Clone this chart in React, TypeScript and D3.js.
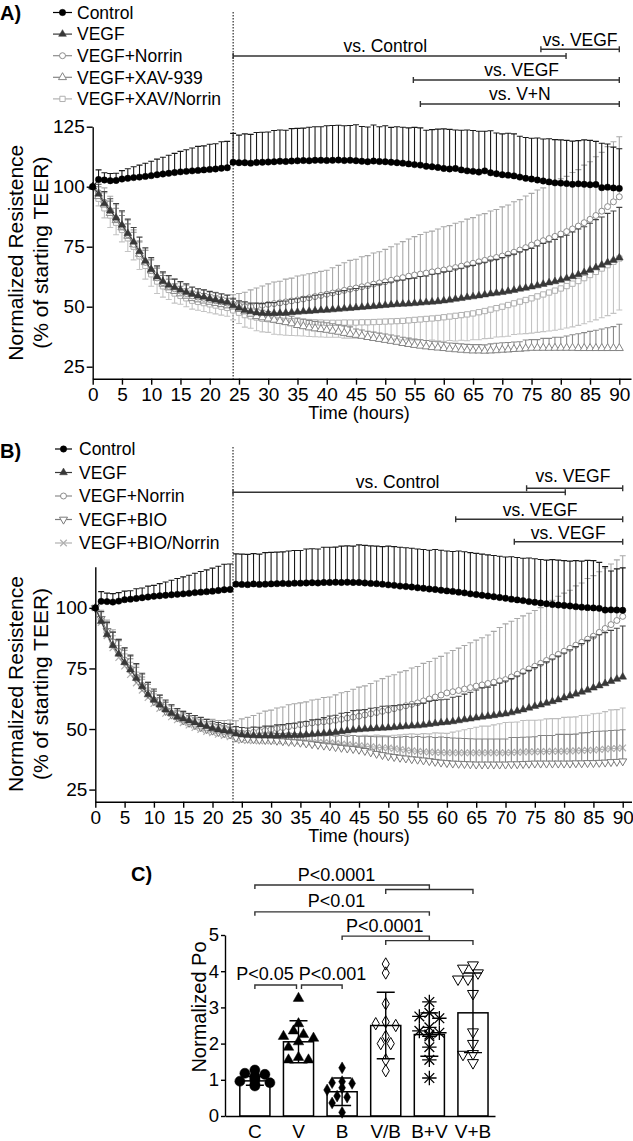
import { useEffect, useRef } from "react";
import * as d3 from "d3";

const FONT = "'Liberation Sans', Arial, Helvetica, sans-serif";

// sampling times (hours), one reading per hour
const HOURS = [0,1,2,3,4,5,6,7,8,9,10,11,12,13,14,15,16,17,18,19,20,21,22,23,24,25,26,27,28,29,30,31,32,33,34,35,36,37,38,39,40,41,42,43,44,45,46,47,48,49,50,51,52,53,54,55,56,57,58,59,60,61,62,63,64,65,66,67,68,69,70,71,72,73,74,75,76,77,78,79,80,81,82,83,84,85,86,87,88,89,90];
const X_TICKS = [0,5,10,15,20,25,30,35,40,45,50,55,60,65,70,75,80,85,90];
const Y_TICKS_A = [25,50,75,100,125];
const Y_TICKS_B = [25,50,75,100];
const Y_TICKS_C = [0,1,2,3,4,5];
const SWITCH_A = 24;
const SWITCH_B = 23.5;

const LEGEND_A = ["Control","VEGF","VEGF+Norrin","VEGF+XAV-939","VEGF+XAV/Norrin"];
const LEGEND_B = ["Control","VEGF","VEGF+Norrin","VEGF+BIO","VEGF+BIO/Norrin"];

// ---- panel A: mean and SD
const A_CONTROL = [100,103,102.8,102.5,102.6, 103.2,103.5,103.8,104,104.3, 104.6,105,105.3,105.6,105.9, 106.2,106.4,106.6,106.8,107, 107.2,107.4,107.7,107.9, 110.2,110,110,109.8,110.1,110.2, 110.3,110.4,110.6,110.5,110.7, 110.8,110.9,110.8,111,111, 110.9,111,111.1,110.9,111, 110.8,110.6,110.4,110.7,110.5, 110.4,110.2,110,109.8,109.5, 109.2,109,108.5,108.3,108, 107.6,107.4,107.6,107,106.6, 106.4,106.1,106.6,105.8,105.4, 105,104.8,104.5,104,103.5, 103.2,102.8,102.4,102,101.6, 101.5,101.3,101,101.2,101, 100.8,100.9,99.6,99.8,99.5, 99.3];
const A_CONTROL_SD = [0, 4,3,3,3, 3.5,4,4.5,5,5.5, 6,6.5,7,7.5,8, 8.5,9,9.5,10,10, 10.5,10.5,11,11, 12,11.5,12,12,12.5,12.5, 12.5,13,13,13,13.5, 13.5,13.5,14,14,14, 14.5,14.5,14.5,14.5,14.5, 15,14.5,14.5,15,14.5, 15,14.5,15,15,15, 15.5,15.5,15,15.5,16, 16.5,16.5,16,16.5,17, 17,17,16.5,17.5,17, 17,17.5,17.5,17,17, 17,17.5,17.5,18,18, 18,18,18,18,18.5, 18.5,18,18.5,18,17, 16.5];
const A_VEGF = [100,97,93,90,87, 84,80.5,77,73,69, 65.5,62.5,60.5,59,58, 57,56,55.2,54.5,54, 53.3,52.8,52.3,51.8, 50.5,49.5,48.5,48,47.5,47.3, 47.2,47.2,47.3,47.4,47.6, 47.8,48,48.1,48.3,48.5, 48.6,48.8,49,49.2,49.4, 49.6,49.8,50,50.2,50.4, 50.6,50.8,51,51.1,51.2, 51.4,51.6,51.8,52,52.2, 52.5,52.8,53.2,53.5,53.9, 54.2,54.6,55,55.4,55.7, 56,56.4,56.9,57.4,57.8, 58.3,58.8,59.4,60,60.5, 61.1,61.8,62.6,63.4,64.3, 65.3,66.3,67.4,68.4,69.4, 70.4];
const A_VEGF_SD = [0, 4,5,5,6, 6,6,6,6,5.5, 5,4.5,4,4,3.5, 3.5,3.5,3,3,3, 3,3,3,3, 3,3,3.5,3.5,4,4, 4.5,4.5,5,5,5.5, 5.5,6,6,6.5,6.5, 7,7,7.5,7.5,8, 8,8.5,8.5,9,9, 9.5,9.5,10,10,10.5, 10.5,11,11,11.5,11.5, 12,12,12.5,12.5,13, 13,13.5,13.5,14,14, 14.5,15,15,15.5,16, 16,16.5,17,17,17.5, 18,18,18.5,19,19, 19.5,20,20,20.5,20.5, 21];
const A_NORRIN = [100,97.5,93.5,90,86.5, 83.5,80,76,72,68.5, 65,62,60,58.5,57.5, 56.5,55.5,54.5,54,53.5, 53,52.5,52,51.5, 51,50.5,50,50,50.3,50.6, 51,51.3,51.6,52,52.4, 52.8,53.2,53.7,54.2,54.7, 55.2,55.7,56.2,56.8,57.3, 57.8,58.3,58.8,59.4,59.9, 60.4,61,61.6,62.1,62.7, 63.2,63.6,64,64.5,64.9, 65.3,65.8,66.3,66.9,67.5, 68.1,68.7,69.3,69.9,70.5, 71.1,71.9,72.7,73.6,74.6, 75.7,76.6,77.5,78.4,79.3, 80.3,81.3,82.4,83.6,85, 86.4,88,89.8,91.7,93.7, 95.8];
const A_NORRIN_SD = [0, 5,6,6,6, 6,6,6,5.5,5, 5,4.5,4,4,4, 3.5,3.5,3.5,3.5,3.5, 3.5,3.5,3.5,3.5, 4,5,6,7,7.5,8, 8.5,9,9,9.5,9.5, 10,10,10,10,10, 10,10.5,11,11.5,12, 12,12.5,12.5,13,13, 13.5,14,14.5,15,15.5, 16,16.5,17,17,17.5, 18,18,18.5,18.5,19, 19,19.5,19.5,20,20, 20.5,20.5,21,21,21.5, 21.5,22,22,22.5,22.5, 23,23,23.5,23.5,24, 24,24.5,24.5,25,25, 25];
const A_XAV = [100,96,92.5,89,86, 83,79.5,76,72,68.5, 65,62,59.5,58,56.5, 55.5,54.5,53.5,53,52.5, 52,51.5,51,50.5, 50,49,48,47,46,45.5, 45,44.5,44,43.5,43, 42.3,41.8,41.3,40.9,40.6, 40.3,39.9,39.5,39,38.6, 38.2,37.8,37.3,36.9,36.5, 36.1,35.7,35.3,34.8,34.4, 34,33.7,33.4,33.1,32.9, 32.7,32.4,32.2,32,31.8, 31.7,31.7,31.6,31.7,31.8, 32,32.1,32.3,32.4,32.6, 32.8,32.8,32.8,32.8,32.8, 32.8,32.8,32.8,32.7,32.7, 32.7,32.7,32.7,32.7,32.7, 32.7];
const A_XAV_SD = [0, 4,5,5,5, 5,5,5,5,5, 4.5,4,3.5,3.5,3, 3,3,3,3,3, 3,3,3,3, 3,3,3,3,3,3, 3,3,3,3,3, 3,3,3,3,3, 3,3,3,3,3, 2.5,2.5,2.5,2.5,2.5, 2.5,2.5,2.5,2.5,2.5, 2.5,2.5,2.5,2.5,2.5, 2.5,2.5,2.5,2.5,2.5, 2.5,2.5,2.5,2.8,3, 3,3,3,3,3.5, 3.5,3.5,4,4,4.5, 4.5,5,5.5,6,6.5, 7,7.5,8,8.5,9, 10];
const A_XN = [100,95,91,88,85, 82,78.5,75,71,67, 63.5,60.5,58.5,57,55.5, 54.5,53.5,52.5,52,51.5, 51,50.5,50,49.5, 48.5,47.5,46.5,46,45.5,45, 44.8,44.5,44.3,44.1,44, 43.9,43.8,43.6,43.5,43.4, 43.3,43.3,43.3,43.4,43.4, 43.4,43.5,43.5,43.6,43.7, 43.8,43.9,44,44.1,44.3, 44.5,44.7,44.9,45.1,45.3, 45.6,45.9,46.2,46.5,46.8, 47.2,47.7,48.2,48.8,49.4, 50,50.7,51.4,52.1,52.8, 53.5,54.3,55.1,55.9,56.7, 57.6,58.6,59.6,60.7,61.9, 63.2,64.5,65.9,67.3,68.7, 70.1];
const A_XN_SD = [0, 3,4,5,5, 5,5.5,5.5,5.5,5.5, 5,5,4.5,4,4, 3.5,3.5,3.5,3.5,3.5, 3.5,3.5,3.5,3.5, 4,4.5,5,5,5.5,5.5, 5.5,6,6,6,6, 6,6,6,6,6, 6,6,6,6.5,6.5, 6.5,6.5,7,7,7, 7,7.5,7.5,8,8, 8.5,8.5,9,9,9.5, 10,10,10.5,10.5,11, 11,11.5,11.5,12,12, 12.5,13,13,13.5,14, 14.5,15,15.5,16,16.5, 17,17.5,18,18.5,19, 19.5,20,20.5,21,21.5, 21.5];

// ---- panel B: mean and SD
const B_CONTROL = [100,102.7,102.6,102.4,102.8, 103.4,103.6,103.9,104.2,104.5, 104.8,105,105.2,105.4,105.6, 105.8,106,106.3,106.5,106.7, 106.9,107.2,107.5,107.6, 109.8,109.7,109.6,109.9,109.7,109.8, 109.9,110,110.1,110,110.2, 110.2,110.3,110.4,110.3,110.5, 110.5,110.6,110.5,110.6,110.5, 110.5,110.3,110.1,110,109.8, 109.5,109.3,109,108.8,108.6, 108.3,108.1,107.8,107.6,107.3, 107,106.8,106.5,106.2,105.8, 105.5,105.2,104.9,104.6,104.3, 104,103.6,103.3,103,102.6, 102.3,102,101.7,101.4,101.2, 101,100.8,100.5,100.3,100.1, 100,99.8,99.1,99.2,99.1, 99];
const B_CONTROL_SD = [0, 4,3.5,3.5,3.5, 3.5,3.5,4,4,4.5, 4.5,5,5.5,6,6.5, 7,7.5,8,8.5,9, 9.5,10,10.5,10.5, 12.5,12.5,12.5,12.5,12.5,13, 13,13,13,13.5,13.5, 13.5,14,14,14,14.5, 14.5,14.5,15,15,15, 15.5,15.5,15.5,15.5,15.5, 16,16,16,16,16, 16,16,16,16.5,16.5, 16.5,16.5,17,17,17, 17,17,17,17,17, 17,17.5,17.5,17.5,18, 18,18,18,18.5,18.5, 18.5,18.5,19,19,19.5, 19.5,19,18,16,17, 17.5];
const B_VEGF = [100,94.5,89,84.5,81, 77.5,74.5,71,67.5,64.2, 62,60,58,56.5,55, 54.2,53.4,52.6,51.8,51, 50.2,49.7,49.3,49, 48,47.6,47.4,47.3,47.2,47.2, 47.2,47.2,47.3,47.3,47.4, 47.4,47.6,47.8,48,48.2, 48.4,48.7,49,49.3,49.6, 49.8,50,50.1,50.3,50.4, 50.5,50.7,50.9,51.1,51.3, 51.4,51.7,52,52.3,52.6, 52.8,53.1,53.5,53.9,54.2, 54.6,55,55.3,55.6,56, 56.3,56.8,57.4,58,58.7, 59.4,60,60.7,61.4,62.1, 62.9,63.7,64.5,65.3,66.1, 67,67.9,68.8,69.7,70.6, 71.5];
const B_VEGF_SD = [0, 4,5,5.5,6, 6,6,6,5.5,5, 4.5,4,4,3.5,3.5, 3,3,3,3,3, 3,3,3,3, 3,3,3,3.5,3.5,4, 4,4.5,4.5,5,5, 5.5,5.5,6,6,6.5, 7,7,7.5,7.5,8, 8,8,8.5,8.5,9, 9,9,9,9,9, 9,9,9.5,9.5,9.5, 9.5,10,10,10.5,11, 11.5,12,12,12.5,13, 13.5,14,14.5,15,15.5, 16,16.5,17,17.5,18, 18.5,19,19.5,20,20.5, 21,21,21,21,21, 21];
const B_NORRIN = [100,95,90,86,82, 78.5,75,71.5,68,65, 62,60,58,56.5,55, 54,53,52,51.2,50.5, 50,49.5,49,48.7, 48.4,48.2,48.3,48.6,49,49.4, 49.8,50.2,50.6,51,51.4, 51.8,52.2,52.5,52.8,53, 53.2,53.6,54,54.5,54.9, 55.3,55.8,56.3,56.8,57.3, 57.8,58.4,59,59.6,60.2, 60.8,61.6,62.4,63.2,64, 64.9,65.4,65.9,66.5,67.1, 67.7,68.2,68.8,69.3,69.9, 70.4,71.5,72.6,73.7,74.8, 75.9,77.1,78.3,79.6,80.8, 82.1,83.3,84.6,85.8,87.1, 88.3,89.9,91.5,93.1,94.8, 96.5];
const B_NORRIN_SD = [0, 4,5,5,5, 5,5,5,4.5,4.5, 4,4,3.5,3.5,3.5, 3.5,3.5,3.5,3.5,3.5, 4,4,4.5,5, 5,6,6.5,7,7.5,8, 8,8.5,8.5,9,9, 9,9,9.5,9.5,10, 10,10.5,11,11,11.5, 12,12,12.5,13,13.5, 14,14,14.5,14.5,15, 15,15.5,15.5,16,16, 16.5,17,17.5,18,18.5, 19,19.5,20,21,22, 23,23,23,23,23, 23,23,23.5,23.5,24, 24,24,24.5,24.5,25, 25,25,25,25,25, 25];
const B_BIO = [100,95.5,90.5,86,82, 78,74.5,71,67.5,64.5, 61.5,59.5,57.5,56,54.8, 53.6,52.6,51.6,50.8,50, 49.4,48.8,48.3,47.8, 46.5,46.2,46,45.8,45.6,45.5, 45.4,45.2,45,44.8,44.6, 44.4,44.1,43.8,43.5,43.2, 42.9,42.6,42.3,42,41.8, 41.5,41,40.4,39.8,39.3, 38.8,38.5,38.2,37.9,37.6, 37.4,37.1,36.8,36.5,36.2, 36,35.8,35.7,35.6,35.5, 35.4,35.4,35.4,35.4,35.4, 35.4,35.5,35.5,35.6,35.7, 35.8,35.8,35.8,35.8,35.8, 35.8,35.8,35.9,35.9,36, 36,36.1,36.2,36.4,36.5, 36.7];
const B_BIO_SD = [0, 3,4,4,4.5, 4.5,4.5,4.5,4,4, 4,3.5,3.5,3.5,3, 3,3,3,3,3, 3,3,3,3, 3,3,3,3,3,3, 3,3,3,3.5,3.5, 3.5,4,4,4,4, 4.5,4.5,5,5,5.5, 5.5,6,6.5,7,7.5, 8,8,8.5,9,9, 9.5,9.5,10,10,10.5, 10.5,10.5,10.5,10.5,10.5, 10.5,10.5,10.5,10.5,10.5, 10.5,11,11,11,11, 11,11.5,11.5,11.5,12, 12,12,12,12.5,12.5, 13,13,13,13,13, 13];
const B_BN = [100,94,88.5,83.5,79.5, 76,72.5,69,66,63, 60.5,58.5,56.5,55,53.8, 52.6,51.6,50.6,49.8,49, 48.4,47.8,47.3,46.8, 45.5,45.3,45.2,45.1,45.1,45.1, 45.1,45.1,45.1,45,45, 45,44.8,44.6,44.5,44.4, 44.3,44.1,43.8,43.6,43.3, 43.1,42.9,42.7,42.5,42.3, 42.2,41.9,41.6,41.3,41, 40.8,40.6,40.5,40.4,40.3, 40.2,40.2,40.2,40.2,40.2, 40.2,40.2,40.2,40.2,40.2, 40.2,40.3,40.4,40.5,40.6, 40.6,40.7,40.7,40.8,40.8, 40.8,40.9,41,41.1,41.2, 41.3,41.5,41.7,41.9,42, 42.2];
const B_BN_SD = [0, 4,5,5,5, 5,5,4.5,4.5,4, 4,4,3.5,3.5,3.5, 3.5,3.5,3.5,3.5,3.5, 3.5,3.5,3.5,3.5, 3,3,3,3,3,3, 3,3,3,3,3, 3,3,3,3,3, 3,3.5,3.5,4,4, 4,4.5,4.5,5,5, 5,5.5,6,6.5,7, 7,7.5,7.5,8,8, 8,8.5,9,9.5,10, 10.5,11,11,11.5,12, 12.5,12.5,12.5,13,13, 13,13,13.5,13.5,13.5, 14,14,14,14.5,14.5, 15,15,15.5,16,16, 16.5];

// significance ranges (hours) above the time panels
const A_SIG = [
  { label: "vs. Control", from: 24, to: 80.9, labelT: 50 },
  { label: "vs. VEGF", from: 76.6, to: 90, labelT: 83.3 },
  { label: "vs. VEGF", from: 54.8, to: 90, labelT: 73.3 },
  { label: "vs. V+N", from: 56, to: 90, labelT: 73 },
];
const B_SIG = [
  { label: "vs. Control", from: 23.5, to: 80.2, labelT: 51.6 },
  { label: "vs. VEGF", from: 73.6, to: 90, labelT: 81.5 },
  { label: "vs. VEGF", from: 61.5, to: 90, labelT: 75.9 },
  { label: "vs. VEGF", from: 71.5, to: 90, labelT: 80.7 },
];

// ---- panel C
const C_GROUPS = ["C","V","B","V/B","B+V","V+B"];
const C_MEANS = [0.97, 2.05, 0.67, 2.5, 2.25, 2.85];
const C_SD = [0.12, 0.58, 0.38, 0.92, 0.6, 1.1];
const C_PTS_C = [1.27,1.18,1.15,1.1,1.05,1.0,0.96,0.92,0.88,0.83];
const C_PTS_V = [3.25,2.55,2.35,2.25,2.2,2.15,2.05,1.9,1.62,1.55,1.55];
const C_PTS_B = [1.33,0.95,0.92,0.9,0.78,0.72,0.55,0.52,0.36,0.1];
const C_PTS_VB = [4.2,3.95,3.1,2.6,2.55,2.5,2.2,2.0,2.0,1.55,1.25];
const C_PTS_BV = [3.15,2.85,2.75,2.7,2.45,2.35,2.3,2.25,2.2,1.9,1.55,1.05];
const C_PTS_VPB = [4.17,4.08,3.95,3.78,3.78,3.38,2.32,2.0,1.72,1.7,1.47];
const C_BRACKETS = [
  { label: "P<0.0001", from: "C", to: "B+V", group: ["V/B","V+B"], level: 6.38, labelAt: 1.87 },
  { label: "P<0.01", from: "C", to: "B+V", group: null, level: 5.64, labelAt: 1.87 },
  { label: "P<0.0001", from: "B", to: "B+V", group: ["V/B","V+B"], level: 4.97, labelAt: 2.98 },
  { label: "P<0.05", from: "C", to: "V", group: null, level: 3.62, labelAt: 0.23 },
  { label: "P<0.001", from: "V", to: "B", group: null, level: 3.62, labelAt: 1.78 },
];
const C_INSET = [[0,0],[0,0],[0,0],[0,-2],[3,0]];

const SYMBOLS: any = {
  circle: d3.symbolCircle, triangle: d3.symbolTriangle, triangleDown: d3.symbolTriangle,
  square: d3.symbolSquare, diamond: d3.symbolDiamond, times: d3.symbolTimes, plus: d3.symbolPlus,
};

const STYLE_A = [
  { shape: "circle", filled: true, color: "#000", bar: "#1a1a1a", dir: 1, size: 32 },
  { shape: "triangle", filled: true, color: "#383838", bar: "#444", dir: 1, size: 26 },
  { shape: "circle", filled: false, color: "#8c8c8c", bar: "#a8a8a8", dir: 1, size: 28 },
  { shape: "triangle", filled: false, color: "#858585", bar: "#8a8a8a", dir: 1, size: 28 },
  { shape: "square", filled: false, color: "#b0b0b0", bar: "#c4c4c4", dir: -1, size: 28 },
];
const STYLE_B = [
  { shape: "circle", filled: true, color: "#000", bar: "#1a1a1a", dir: 1, size: 32 },
  { shape: "triangle", filled: true, color: "#383838", bar: "#444", dir: 1, size: 26 },
  { shape: "circle", filled: false, color: "#8c8c8c", bar: "#a8a8a8", dir: 1, size: 28 },
  { shape: "triangleDown", filled: false, color: "#7a7a7a", bar: "#858585", dir: 1, size: 28 },
  { shape: "times", filled: false, color: "#b0b0b0", bar: "#bdbdbd", dir: 1, size: 30 },
];

const LAYOUT_A = {
  left: 92.7, right: 631, xMax: 92, top: 126.7, bottom: 378.7, yMax: 125, dotTop: 12,
  legLine: [53, 72], legText: 77, legY0: 12.5, legStep: 21.6,
  letter: "A)", letterY: 20, yTitleY: 252.7, xTitleY: 419,
  sigY: [56, 49.3, 80, 104], sigTextY: [52, 46, 76, 100],
};
const LAYOUT_B = {
  left: 95.3, right: 631.5, xMax: 91.5, top: 566.7, bottom: 801.7, yMax: 117, dotTop: 447,
  legLine: [55, 72], legText: 79, legY0: 449, legStep: 23.5,
  letter: "B)", letterY: 458, yTitleY: 684, xTitleY: 842,
  sigY: [492.3, 488.3, 519.3, 541.7], sigTextY: [488, 482, 516, 539],
};

function addMarker(g: any, st: any, x: number, y: number, size: number, openFill = "#fff") {
  // 8-armed asterisk = plus + times drawn on top of each other
  if (st.shape === "star") {
    ["plus", "times"].forEach(s => {
      g.append("path").attr("d", d3.symbol(SYMBOLS[s], s === "plus" ? size : size * 0.9)())
        .attr("transform", `translate(${x},${y})`)
        .attr("fill", "none").attr("stroke", st.color).attr("stroke-width", 1.3);
    });
    return;
  }
  const rot = st.shape === "triangleDown" ? " rotate(180)" : "";
  const strokeOnly = st.shape === "times";
  g.append("path")
    .attr("d", d3.symbol(SYMBOLS[st.shape], size)())
    .attr("transform", `translate(${x},${y})${rot}`)
    .attr("fill", strokeOnly ? "none" : st.filled ? st.color : openFill)
    .attr("stroke", st.color)
    .attr("stroke-width", strokeOnly ? 1.2 : st.filled ? 0.5 : 1);
}

function styleAxis(ax: any, size: number) {
  ax.attr("font-family", FONT).attr("font-size", size);
  ax.selectAll("text").attr("fill", "#000");
  ax.selectAll("path,line").attr("stroke", "#000").attr("stroke-width", 1.4);
}

function drawTimePanel(svg: any, L: any, means: number[][], sds: number[][], styles: any[],
  legend: string[], sig: any[], yTicks: number[], switchT: number) {
  const x = d3.scaleLinear().domain([0, L.xMax]).range([L.left, L.right]);
  const y = d3.scaleLinear().domain([20, L.yMax]).range([L.bottom, L.top]);
  const g = svg.append("g");

  g.append("line")
    .attr("x1", x(switchT)).attr("x2", x(switchT))
    .attr("y1", L.dotTop).attr("y2", L.bottom)
    .attr("stroke", "#000").attr("stroke-width", 1).attr("stroke-dasharray", "1.5,1.5");

  for (let s = means.length - 1; s >= 0; s--) {
    const st = styles[s], mean = means[s], sd = sds[s];
    const gs = g.append("g");
    let bars = "";
    HOURS.forEach((t, i) => {
      if (!sd[i]) return;
      const xx = x(t), y0 = y(mean[i]), y1 = y(mean[i] + st.dir * sd[i]);
      bars += `M${xx},${y0}V${y1}M${xx - 3},${y1}H${xx + 3}`;
    });
    gs.append("path").attr("d", bars).attr("fill", "none").attr("stroke", st.bar).attr("stroke-width", 1.1);
    const line = d3.line<number>().x((_, i) => x(HOURS[i])).y(d => y(d));
    gs.append("path").datum(mean).attr("d", line).attr("fill", "none").attr("stroke", st.color).attr("stroke-width", 1);
    mean.forEach((v, i) => addMarker(gs, st, x(HOURS[i]), y(v), st.size));
  }

  const ax = g.append("g").attr("transform", `translate(0,${L.bottom})`)
    .call(d3.axisBottom(x).tickValues(X_TICKS).tickSize(6).tickPadding(3).tickSizeOuter(0));
  styleAxis(ax, 19);
  const ay = g.append("g").attr("transform", `translate(${L.left},0)`)
    .call(d3.axisLeft(y).tickValues(yTicks).tickSize(6).tickPadding(2).tickSizeOuter(0));
  styleAxis(ay, 19);

  g.append("text").attr("x", 359).attr("y", L.xTitleY).attr("text-anchor", "middle")
    .attr("font-family", FONT).attr("font-size", 18).text("Time (hours)");
  g.append("text").attr("transform", `translate(23,${L.yTitleY}) rotate(-90)`).attr("text-anchor", "middle")
    .attr("font-family", FONT).attr("font-size", 21).text("Normalized Resistence");
  g.append("text").attr("transform", `translate(48,${L.yTitleY}) rotate(-90)`).attr("text-anchor", "middle")
    .attr("font-family", FONT).attr("font-size", 21).text("(% of starting TEER)");
  g.append("text").attr("x", 0).attr("y", L.letterY).attr("font-family", FONT).attr("font-size", 20)
    .attr("font-weight", "bold").text(L.letter);

  legend.forEach((name, i) => {
    const yy = L.legY0 + i * L.legStep, st = styles[i];
    g.append("line").attr("x1", L.legLine[0]).attr("x2", L.legLine[1]).attr("y1", yy).attr("y2", yy)
      .attr("stroke", st.color).attr("stroke-width", 1.2);
    addMarker(g, st, (L.legLine[0] + L.legLine[1]) / 2, yy, st.size);
    g.append("text").attr("x", L.legText).attr("y", yy + 6.3).attr("font-family", FONT)
      .attr("font-size", 17.5).text(name);
  });

  sig.forEach((b, i) => {
    const yy = L.sigY[i], x1 = x(b.from), x2 = x(b.to);
    g.append("path").attr("d", `M${x1},${yy - 3}V${yy + 3}M${x1},${yy}H${x2}M${x2},${yy - 3}V${yy + 3}`)
      .attr("fill", "none").attr("stroke", "#333").attr("stroke-width", 1.4);
    g.append("text").attr("x", x(b.labelT)).attr("y", L.sigTextY[i]).attr("text-anchor", "middle")
      .attr("font-family", FONT).attr("font-size", 17.5).text(b.label);
  });
}

function drawBarPanel(svg: any) {
  const x = d3.scaleBand<string>().domain(C_GROUPS).range([225, 495]).paddingInner(0.31).paddingOuter(0.25).align(0.68);
  const y = d3.scaleLinear().domain([0, 5]).range([1116, 935]);
  const bw = x.bandwidth(), step = x.step();
  const cx = (k: string) => (x(k) as number) + bw / 2;
  const at = (f: number) => cx(C_GROUPS[0]) + f * step;
  const g = svg.append("g");
  const pts = [C_PTS_C, C_PTS_V, C_PTS_B, C_PTS_VB, C_PTS_BV, C_PTS_VPB];
  const styles = [
    { shape: "circle", filled: true, color: "#000", size: 80 },
    { shape: "triangle", filled: true, color: "#000", size: 48 },
    { shape: "diamond", filled: true, color: "#000", size: 40 },
    { shape: "diamond", filled: false, color: "#000", size: 44 },
    { shape: "star", filled: false, color: "#000", size: 70 },
    { shape: "triangleDown", filled: false, color: "#000", size: 52 },
  ];

  C_GROUPS.forEach((k, i) => {
    g.append("rect").attr("x", x(k)).attr("y", y(C_MEANS[i])).attr("width", bw)
      .attr("height", y(0) - y(C_MEANS[i])).attr("fill", "#fff").attr("stroke", "#000").attr("stroke-width", 1.5);
  });
  C_GROUPS.forEach((k, i) => {
    const c = cx(k), hi = y(C_MEANS[i] + C_SD[i]), lo = y(C_MEANS[i] - C_SD[i]);
    g.append("path").attr("d", `M${c},${hi}V${lo}M${c - 9},${hi}H${c + 9}M${c - 9},${lo}H${c + 9}`)
      .attr("fill", "none").attr("stroke", "#000").attr("stroke-width", 1.4);
  });
  // simple deterministic beeswarm inside each bar
  C_GROUPS.forEach((k, i) => {
    const c = cx(k), placed: number[][] = [];
    pts[i].forEach(v => {
      const py = y(v);
      let px = c;
      for (const s of [0, -1, 1, -2, 2, -3, 3]) {
        const cand = c + s * 5;
        if (placed.every(([qx, qy]) => Math.hypot(qx - cand, qy - py) >= 8.5)) { px = cand; break; }
      }
      placed.push([px, py]);
      addMarker(g, styles[i], px, py, styles[i].size, "none");
    });
  });

  const ay = g.append("g").attr("transform", "translate(225,0)")
    .call(d3.axisLeft(y).tickValues(Y_TICKS_C).tickFormat(d3.format("d")).tickSize(4).tickPadding(2).tickSizeOuter(0));
  styleAxis(ay, 18.5);
  const ax = g.append("g").attr("transform", "translate(0,1116)")
    .call(d3.axisBottom(x).tickSize(0).tickPadding(8.5).tickSizeOuter(0));
  styleAxis(ax, 19);

  g.append("text").attr("transform", "translate(206,1007) rotate(-90)").attr("text-anchor", "middle")
    .attr("font-family", FONT).attr("font-size", 20).text("Normalized Po");
  g.append("text").attr("x", 131).attr("y", 881).attr("font-family", FONT).attr("font-size", 20)
    .attr("font-weight", "bold").text("C)");

  C_BRACKETS.forEach((b, i) => {
    const yy = y(b.level), x1 = cx(b.from) + C_INSET[i][0], x2 = cx(b.to) + C_INSET[i][1];
    let d = `M${x1},${yy + 4}V${yy}H${x2}`;
    if (b.group) {
      const gy = yy + 4.5, gx1 = cx(b.group[0]), gx2 = cx(b.group[1]);
      d += `V${gy}M${gx1},${gy + 4.5}V${gy}H${gx2}V${gy + 4.5}`;
    } else {
      d += `V${yy + 4}`;
    }
    g.append("path").attr("d", d).attr("fill", "none").attr("stroke", "#333").attr("stroke-width", 1.4);
    g.append("text").attr("x", at(b.labelAt)).attr("y", yy - 4.5).attr("text-anchor", "middle")
      .attr("font-family", FONT).attr("font-size", 18).text(b.label);
  });
}

export default function App() {
  const ref = useRef<SVGSVGElement>(null);

  useEffect(() => {
    const svg = d3.select(ref.current);
    svg.selectAll("*").remove();
    drawTimePanel(svg, LAYOUT_A,
      [A_CONTROL, A_VEGF, A_NORRIN, A_XAV, A_XN],
      [A_CONTROL_SD, A_VEGF_SD, A_NORRIN_SD, A_XAV_SD, A_XN_SD],
      STYLE_A, LEGEND_A, A_SIG, Y_TICKS_A, SWITCH_A);
    drawTimePanel(svg, LAYOUT_B,
      [B_CONTROL, B_VEGF, B_NORRIN, B_BIO, B_BN],
      [B_CONTROL_SD, B_VEGF_SD, B_NORRIN_SD, B_BIO_SD, B_BN_SD],
      STYLE_B, LEGEND_B, B_SIG, Y_TICKS_B, SWITCH_B);
    drawBarPanel(svg);
  }, []);

  return (
    <svg ref={ref} width={633} height={1141}
      style={{ position: "absolute", left: 0, top: 0, background: "#fff" }} />
  );
}
